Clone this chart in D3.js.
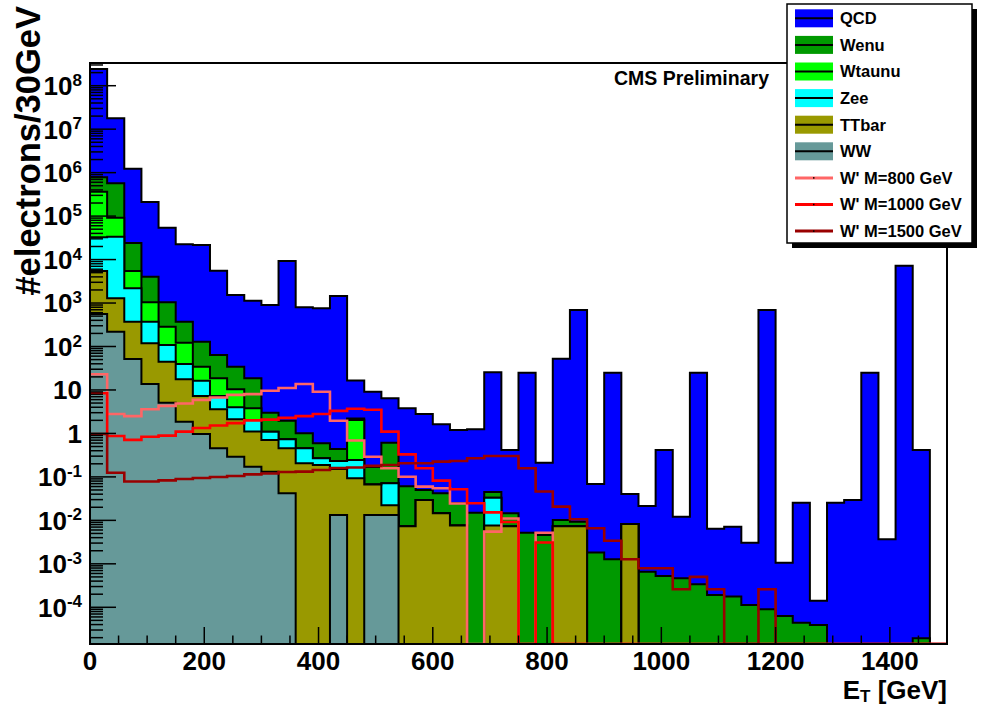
<!DOCTYPE html>
<html>
<head>
<meta charset="utf-8">
<script src="https://cdn.jsdelivr.net/npm/d3@7"></script>
<style>
  html, body { margin: 0; padding: 0; background: #fff; }
  svg { display: block; }
  text { font-family: "Liberation Sans", Arial, Helvetica, sans-serif; font-weight: bold; fill: #000; }
</style>
</head>
<body>
<svg id="chart" width="996" height="706"></svg>
<script>
// Electron E_T spectrum: stacked Standard Model backgrounds with W' signal overlays.
// 50 bins of 30 GeV from 0 to 1500 GeV.
const binWidth = 30;
const binLow = d3.range(0, 1500, binWidth);

// Background contents per bin (stacked, bottom to top: WW, TTbar, Zee, Wtaunu, Wenu, QCD)
const ww = [560, 219, 51.6, 13.7, 5.1, 1.86, 0.97, 0.456, 0.292, 0.172,
            0.132, 0.042, 0, 0, 0.0133, 0, 0.0133, 0.0133, 0, 0,
            0, 0, 0, 0, 0, 0, 0, 0, 0, 0,
            0, 0, 0, 0, 0, 0, 0, 0, 0, 0,
            0, 0, 0, 0, 0, 0, 0, 0, 0, 0];
const ttbar = [4900, 1070, 320, 105, 39.7, 15.7, 6.31, 3.14, 1.83, 0.93,
               0.574, 0.414, 0.206, 0.188, 0.139, 0.0931, 0.0537, 0.0089, 0.00731, 0.0294,
               0.0146, 0.00764, 0, 0.00764, 0.00731, 0, 0, 0.00731, 0.00731, 0,
               0, 0.00826, 0, 0, 0, 0, 0, 0, 0, 0,
               0, 0, 0, 0, 0, 0, 0, 0, 0, 0];
const zee = [27100, 32300, 1810, 253, 63, 22, 9.1, 3.68, 1.88, 0.94,
             0.39, 0.278, 0.25, 0.08, 0.08, 0.152, 0, 0.049, 0, 0,
             0, 0, 0, 0.0255, 0, 0, 0, 0, 0, 0,
             0, 0, 0, 0, 0, 0, 0, 0, 0, 0,
             0, 0, 0, 0, 0, 0, 0, 0, 0, 0];
const wtaunu = [332000, 58300, 3280, 668, 178, 82.4, 18, 11.3, 6.4, 1.75,
                0, 0, 0, 0, 0, 1.8, 0, 0, 0, 0,
                0, 0, 0, 0, 0, 0, 0, 0, 0, 0,
                0, 0, 0, 0, 0, 0, 0, 0, 0, 0,
                0, 0, 0, 0, 0, 0, 0, 0, 0, 0];
const wenu = [416000, 477000, 18600, 3000, 754, 250, 94.6, 45.2, 24, 14.8,
              1.9, 1.23, 0.554, 0.326, 0.207, 0.17, 0.102, 0.541, 0.0535, 0.0206,
              0.0274, 0.0175, 0.015, 0.0119, 0.0073, 0.00521, 0.00461, 0.0029, 0.002, 0.00181,
              0.00127, 0, 6.6e-4, 5.26e-4, 4.66e-4, 3.39e-4, 1.92e-4, 1.76e-4, 1.13e-4, 9.0e-5,
              6.3e-5, 4.4e-5, 3.9e-5, 0, 0, 0, 0, 0, 1.94e-5, 0];
const qcd = [2.41e8, 1.72e7, 1.21e6, 2.07e5, 5.31e4, 2.2e4, 2.15e4, 5490, 1500, 1110,
             899, 9270, 797, 756, 1450, 14.2, 8.97, 5.83, 3.73, 2.75,
             1.59, 1.17, 1.23, 25.4, 0.401, 25, 0.207, 52.5, 692, 0.0669,
             25, 0.0322, 0.0207, 0.415, 0.0117, 25, 0.00626, 0.00698, 0.00296, 692,
             0.001, 0.0255, 1.03e-4, 0.0255, 0.0294, 25, 0.00367, 7230, 0.416, 0];

// W' signal samples (not stacked)
const wprime800 = [23, 2.8, 2.5, 3.6, 4.3, 4.9, 5.9, 6.7, 7.7, 8.0,
                   9.6, 11.1, 13.7, 9.1, 1.95, 0.69, 0.29, 0.158, 0.101, 0.0596,
                   0.055, 0.0245, 0, 0.0055, 0.011, 0, 0.0052, 0, 0, 0,
                   0, 0, 0, 0, 0, 0, 0, 0, 0, 0,
                   0, 0, 0, 0, 0, 0, 0, 0, 0, 0];
const wprime1000 = [8.4, 0.87, 0.71, 0.84, 0.89, 1.1, 1.33, 1.52, 1.73, 2.0,
                    2.08, 2.28, 2.5, 2.8, 3.3, 3.7, 3.5, 1.1, 0.33, 0.158,
                    0.082, 0.052, 0.0247, 0.0153, 0.0092, 0, 0.0031, 0, 0, 0,
                    0, 0, 0, 0, 0, 0, 0, 0, 0, 0,
                    0, 0, 0, 0, 0, 0, 0, 0, 0, 0];
const wprime1500 = [0.97, 0.125, 0.0785, 0.0785, 0.083, 0.0896, 0.0945, 0.0995, 0.105, 0.114,
                    0.12, 0.13, 0.132, 0.144, 0.16, 0.165, 0.179, 0.188, 0.206, 0.206,
                    0.224, 0.232, 0.268, 0.303, 0.303, 0.158, 0.046, 0.0207, 0.0106, 0.0066,
                    0.0034, 0.00127, 0.00079, 0.00079, 0.00026, 0.0005, 0.00026, 0, 0, 0.00026,
                    0, 0, 0, 0, 0, 0, 0, 0, 0, 0];

const yTickValues = [1e8, 1e7, 1e6, 1e5, 1e4, 1e3, 1e2, 10, 1, 1e-1, 1e-2, 1e-3, 1e-4];
const xTickValues = [0, 200, 400, 600, 800, 1000, 1200, 1400];

const backgrounds = [
  { name: "WW",     values: ww,     color: "#669999" },
  { name: "TTbar",  values: ttbar,  color: "#999900" },
  { name: "Zee",    values: zee,    color: "#00ffff" },
  { name: "Wtaunu", values: wtaunu, color: "#00ff00" },
  { name: "Wenu",   values: wenu,   color: "#009900" },
  { name: "QCD",    values: qcd,    color: "#0000ff" }
];
const signals = [
  { name: "W' M=800 GeV",  values: wprime800,  color: "#ff6666" },
  { name: "W' M=1000 GeV", values: wprime1000, color: "#ff0000" },
  { name: "W' M=1500 GeV", values: wprime1500, color: "#990000" }
];

// ---- geometry ----
const frame = { left: 90, right: 947, top: 63, bottom: 644 };
const yMin = 1.43e-5, yMax = 3.33e8;

const x = d3.scaleLinear().domain([0, 1500]).range([frame.left, frame.right]);
const y = d3.scaleLog().domain([yMin, yMax]).range([frame.bottom, frame.top]);
const yPos = v => (v > yMin ? y(Math.min(v, yMax)) : y(yMin));

const svg = d3.select("#chart");

// step points: each bin contributes its low and high edge at the bin content
const stepPoints = vals => vals.flatMap((v, i) => [[binLow[i], v], [binLow[i] + binWidth, v]]);
const stepLine = d3.line().x(d => x(d[0])).y(d => yPos(d[1]));
const stepArea = d3.area().x(d => x(d[0])).y0(y(yMin)).y1(d => yPos(d[1]));

// cumulative sums for the stack
let running = new Array(binLow.length).fill(0);
const cumulative = backgrounds.map(b => {
  running = running.map((s, i) => s + b.values[i]);
  return { ...b, cum: running.slice() };
});

const plot = svg.append("g");
plot.append("defs").append("clipPath").attr("id", "plotClip")
  .append("rect")
  .attr("x", frame.left).attr("y", frame.top)
  .attr("width", frame.right - frame.left).attr("height", frame.bottom - frame.top);
const inner = plot.append("g").attr("clip-path", "url(#plotClip)");

// stack drawn from the total downwards so lower components sit in front
cumulative.slice().reverse().forEach(b => {
  const pts = stepPoints(b.cum);
  inner.append("path").attr("d", stepArea(pts)).attr("fill", b.color).attr("stroke", "none");
  inner.append("path").attr("d", stepLine(pts)).attr("fill", "none")
    .attr("stroke", "#000").attr("stroke-width", 2);
});

// signal overlays
signals.forEach(s => {
  inner.append("path").attr("d", stepLine(stepPoints(s.values))).attr("fill", "none")
    .attr("stroke", s.color).attr("stroke-width", 2.6);
});

// ---- axes ----
const axes = svg.append("g").attr("stroke", "#000");

// y ticks (major at decades, minor at 2..9)
const majorLen = 26, minorLen = 13;
for (let e = -5; e <= 8; e++) {
  for (let m = 1; m <= 9; m++) {
    const v = m * Math.pow(10, e);
    if (v < yMin || v > yMax) continue;
    const yy = y(v);
    axes.append("line").attr("x1", frame.left).attr("x2", frame.left + (m === 1 ? majorLen : minorLen))
      .attr("y1", yy).attr("y2", yy).attr("stroke-width", 1.5);
  }
}
// x ticks (major every 200, minor every 50)
for (let v = 0; v <= 1500; v += 50) {
  const xx = x(v);
  const len = (v % 200 === 0) ? 17 : 8.5;
  axes.append("line").attr("x1", xx).attr("x2", xx)
    .attr("y1", frame.bottom).attr("y2", frame.bottom - len).attr("stroke-width", 1.5);
}

// frame
svg.append("rect")
  .attr("x", frame.left).attr("y", frame.top)
  .attr("width", frame.right - frame.left).attr("height", frame.bottom - frame.top)
  .attr("fill", "none").attr("stroke", "#000").attr("stroke-width", 2);

// y tick labels
const yLab = svg.append("g").attr("font-size", 26).attr("text-anchor", "end");
yTickValues.forEach(v => {
  const e = Math.round(Math.log10(v));
  const t = yLab.append("text").attr("x", 82).attr("y", y(v)).attr("dy", "0.36em");
  if (e === 0) t.text("1");
  else if (e === 1) t.text("10");
  else {
    t.append("tspan").text("10");
    t.append("tspan").attr("font-size", 17).attr("dy", "-0.55em").text(String(e));
  }
});

// x tick labels
svg.append("g").attr("font-size", 26).attr("text-anchor", "middle")
  .selectAll("text").data(xTickValues).join("text")
  .attr("x", d => x(d)).attr("y", 670).text(d => d);

// axis titles
const xt = svg.append("text").attr("x", frame.right).attr("y", 699)
  .attr("text-anchor", "end").attr("font-size", 26);
xt.append("tspan").text("E");
xt.append("tspan").attr("font-size", 17).attr("dy", 3).text("T");
xt.append("tspan").attr("dy", -3).text(" [GeV]");

svg.append("text").attr("transform", "translate(40,6) rotate(-90)")
  .attr("text-anchor", "end").attr("font-size", 34.5).text("#electrons/30GeV");

svg.append("text").attr("x", 614).attr("y", 85).attr("font-size", 19.5).text("CMS Preliminary");

// ---- legend ----
const leg = svg.append("g");
leg.append("rect").attr("x", 792).attr("y", 9).attr("width", 185).attr("height", 239).attr("fill", "#000");
leg.append("rect").attr("x", 787).attr("y", 4).attr("width", 185).attr("height", 239)
  .attr("fill", "#fff").attr("stroke", "#000").attr("stroke-width", 1.5);

const legendItems = [...backgrounds.slice().reverse().map(b => ({ ...b, kind: "fill" })),
                     ...signals.map(s => ({ ...s, kind: "line" }))];
legendItems.forEach((d, i) => {
  const cy = 18.3 + i * 26.6;
  if (d.kind === "fill") {
    leg.append("rect").attr("x", 795).attr("y", cy - 9).attr("width", 38).attr("height", 18).attr("fill", d.color);
    leg.append("line").attr("x1", 795).attr("x2", 833).attr("y1", cy).attr("y2", cy)
      .attr("stroke", "#000").attr("stroke-width", 2);
  } else {
    leg.append("line").attr("x1", 795).attr("x2", 833).attr("y1", cy).attr("y2", cy)
      .attr("stroke", d.color).attr("stroke-width", 3);
    leg.append("rect").attr("x", 813).attr("y", cy - 0.75).attr("width", 1.5).attr("height", 1.5).attr("fill", "#000");
  }
  leg.append("text").attr("x", 840).attr("y", cy).attr("dy", "0.36em").attr("font-size", 16.5).text(d.name);
});
</script>
</body>
</html>
